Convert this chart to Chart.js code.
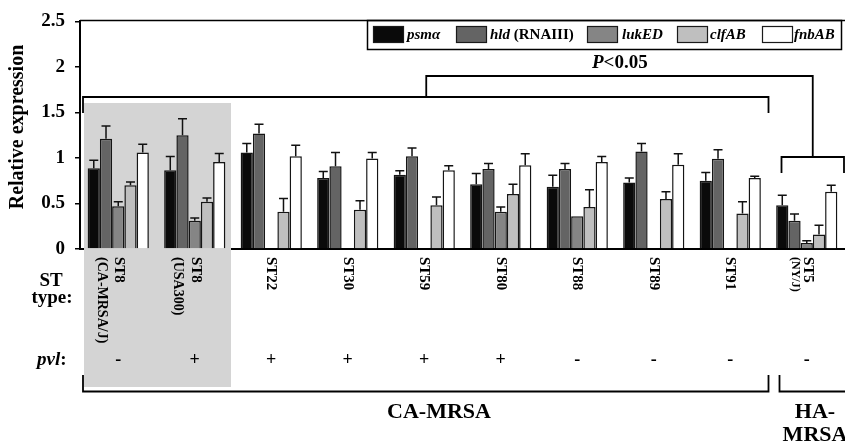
<!DOCTYPE html>
<html>
<head>
<meta charset="utf-8">
<script src="https://cdn.jsdelivr.net/npm/chart.js@4.4.0/dist/chart.umd.min.js"></script>
<style>
html,body{margin:0;padding:0;background:#fff;}
#wrap{width:845px;height:443px;}
</style>
</head>
<body>
<div id="wrap"><canvas id="c" width="845" height="443"></canvas></div>
<script>
// ---- data ----
const categories = ['ST8 (CA-MRSA/J)','ST8 (USA300)','ST22','ST30','ST59','ST80','ST88','ST89','ST91','ST5 (NY/J)'];
const stMain = ['ST8','ST8','ST22','ST30','ST59','ST80','ST88','ST89','ST91','ST5'];
const stSub = ['(CA-MRSA/J)','(USA300)','','','','','','','','(NY/J)'];
const pvlSigns = ['-','+','+','+','+','+','-','-','-','-'];
const yTicks = [0, 0.5, 1, 1.5, 2, 2.5];

const psma = [0.886, 0.865, 1.06, 0.78, 0.815, 0.71, 0.685, 0.73, 0.75, 0.48];
const psmaErr = [0.09, 0.15, 0.10, 0.07, 0.045, 0.12, 0.125, 0.05, 0.09, 0.11];
const hld = [1.21, 1.25, 1.27, 0.91, 1.02, 0.88, 0.88, 1.07, 0.99, 0.31];
const hldErr = [0.14, 0.18, 0.10, 0.15, 0.09, 0.06, 0.06, 0.09, 0.10, 0.075];
const lukED = [0.47, 0.31, null, null, null, 0.41, 0.36, null, null, 0.065];
const lukEDErr = [0.05, 0.03, null, null, null, 0.05, 0, null, null, 0.025];
const clfAB = [0.70, 0.52, 0.41, 0.43, 0.48, 0.605, 0.46, 0.55, 0.39, 0.16];
const clfABErr = [0.035, 0.04, 0.145, 0.10, 0.09, 0.105, 0.19, 0.08, 0.13, 0.10];
const fnbAB = [1.06, 0.955, 1.02, 0.995, 0.865, 0.92, 0.955, 0.925, 0.78, 0.63];
const fnbABErr = [0.09, 0.095, 0.12, 0.065, 0.05, 0.125, 0.06, 0.12, 0.02, 0.07];

const SERIF = '"Liberation Serif","Times New Roman",Times,serif';
const errs = [psmaErr, hldErr, lukEDErr, clfABErr, fnbABErr];

function mkDs(label, data, color){
  return {label, data, backgroundColor: color, borderColor: '#151515', borderWidth: 1.5,
          categoryPercentage: 0.8, barPercentage: 1.0};
}

const annot = {
  id: 'annot',
  beforeDatasetsDraw(chart){
    const ctx = chart.ctx, x = chart.scales.x, a = chart.chartArea;
    ctx.save();
    ctx.fillStyle = '#d4d4d4';
    const l = a.left + 4, r = x.getPixelForValue(1.5) - 2;
    ctx.fillRect(l, 103, r - l, 387 - 103);
    ctx.restore();
  },
  afterDatasetsDraw(chart){
    const ctx = chart.ctx, y = chart.scales.y;
    ctx.save();
    ctx.strokeStyle = '#111'; ctx.lineWidth = 1.5;
    chart.data.datasets.forEach((ds, di) => {
      const meta = chart.getDatasetMeta(di);
      meta.data.forEach((bar, i) => {
        const v = ds.data[i], e = errs[di][i];
        if (v == null || e == null || e <= 0) return;
        const yt = y.getPixelForValue(v + e);
        ctx.beginPath();
        ctx.moveTo(bar.x, bar.y); ctx.lineTo(bar.x, yt);
        ctx.moveTo(bar.x - 4.5, yt); ctx.lineTo(bar.x + 4.5, yt);
        ctx.stroke();
      });
    });
    ctx.restore();
  },
  afterDraw(chart){
    const ctx = chart.ctx, x = chart.scales.x, a = chart.chartArea;
    ctx.save();
    ctx.strokeStyle = '#000'; ctx.fillStyle = '#000';
    // top frame line
    ctx.lineWidth = 1.5;
    ctx.beginPath(); ctx.moveTo(a.left, a.top - 1); ctx.lineTo(a.right, a.top - 1); ctx.stroke();

    // y title
    ctx.save();
    ctx.translate(18, 127); ctx.rotate(-Math.PI/2);
    ctx.font = 'bold 20px ' + SERIF; ctx.textAlign = 'center'; ctx.textBaseline = 'middle';
    ctx.fillText('Relative expression', 0, 0);
    ctx.restore();

    // legend
    ctx.lineWidth = 1.5;
    ctx.strokeRect(367.5, 20.5, 474, 29);
    const sx = [373, 456, 587, 677, 762];
    const tx = [407, 490, 622, 710, 794];
    chart.data.datasets.forEach((ds, i) => {
      ctx.fillStyle = ds.backgroundColor;
      ctx.fillRect(sx[i], 26, 30, 16);
      ctx.lineWidth = 1.2; ctx.strokeStyle = '#1a1a1a';
      ctx.strokeRect(sx[i] + 0.5, 26.5, 30, 16);
    });
    ctx.fillStyle = '#000'; ctx.textBaseline = 'middle'; ctx.textAlign = 'left';
    const names = ['psmα','hld','lukED','clfAB','fnbAB'];
    names.forEach((n, i) => {
      ctx.font = 'italic bold 15px ' + SERIF;
      ctx.fillText(n, tx[i], 35);
      if (i === 1) {
        const w = ctx.measureText(n).width;
        ctx.font = 'bold 15px ' + SERIF;
        ctx.fillText(' (RNAIII)', tx[i] + w, 35);
      }
    });

    // brackets
    ctx.strokeStyle = '#000'; ctx.lineWidth = 1.8;
    const caL = a.left + 3, caR = x.getPixelForValue(8.5);
    ctx.beginPath();
    ctx.moveTo(caL, 113); ctx.lineTo(caL, 97); ctx.lineTo(caR, 97); ctx.lineTo(caR, 113);
    const mid = x.getPixelForValue(4) + 2, hx = x.getPixelForValue(9) + 6;
    ctx.moveTo(mid, 97); ctx.lineTo(mid, 76); ctx.lineTo(hx, 76); ctx.lineTo(hx, 157);
    const haL = x.getPixelForValue(8.5) + 13, haR = a.right - 1;
    ctx.moveTo(haL, 173); ctx.lineTo(haL, 157); ctx.lineTo(haR, 157); ctx.lineTo(haR, 173);
    ctx.stroke();

    // P<0.05
    ctx.textBaseline = 'middle'; ctx.textAlign = 'left';
    ctx.font = 'italic bold 19px ' + SERIF;
    const pw = ctx.measureText('P').width;
    ctx.fillText('P', 592, 63);
    ctx.font = 'bold 19px ' + SERIF;
    ctx.fillText('<0.05', 592 + pw, 63);

    // x labels (rotated clockwise)
    categories.forEach((c, i) => {
      const cx = x.getPixelForValue(i);
      const two = stSub[i] !== '';
      ctx.save();
      ctx.translate(two ? cx + 1 : cx, 257); ctx.rotate(Math.PI/2);
      ctx.font = 'bold 15px ' + SERIF; ctx.textAlign = 'left'; ctx.textBaseline = 'middle';
      ctx.fillText(stMain[i], 0, 0);
      ctx.restore();
      if (two) {
        const small = i === 9;
        ctx.save();
        ctx.translate(cx + (small ? -12 : -17), 257); ctx.rotate(Math.PI/2);
        ctx.font = 'bold ' + (small ? 12 : 14) + 'px ' + SERIF; ctx.textAlign = 'left'; ctx.textBaseline = 'middle';
        ctx.fillText(stSub[i], 0, 0);
        ctx.restore();
      }
      // pvl signs
      ctx.font = 'bold 18px ' + SERIF; ctx.textAlign = 'center'; ctx.textBaseline = 'middle';
      ctx.fillText(pvlSigns[i], cx, 360);
    });

    // ST type: / pvl:
    ctx.font = 'bold 19px ' + SERIF; ctx.textAlign = 'center'; ctx.textBaseline = 'middle';
    ctx.fillText('ST', 51, 281);
    ctx.fillText('type:', 52, 298);
    ctx.textAlign = 'left';
    ctx.font = 'italic bold 19px ' + SERIF;
    const vw = ctx.measureText('pvl').width;
    ctx.fillText('pvl', 37, 360);
    ctx.font = 'bold 19px ' + SERIF;
    ctx.fillText(':', 37 + vw, 360);

    // bottom brackets
    ctx.lineWidth = 1.8;
    ctx.beginPath();
    ctx.moveTo(caL, 375); ctx.lineTo(caL, 391.5); ctx.lineTo(caR, 391.5); ctx.lineTo(caR, 375);
    const hbL = x.getPixelForValue(8.5) + 11;
    ctx.moveTo(hbL, 375); ctx.lineTo(hbL, 391.5); ctx.lineTo(a.right, 391.5);
    ctx.stroke();
    ctx.font = 'bold 22px ' + SERIF; ctx.textAlign = 'center'; ctx.textBaseline = 'middle';
    ctx.fillText('CA-MRSA', 439, 412);
    ctx.fillText('HA-', 815, 412);
    ctx.fillText('MRSA', 815, 435);
    ctx.restore();
  }
};

new Chart(document.getElementById('c'), {
  type: 'bar',
  data: {
    labels: categories,
    datasets: [
      mkDs('psmα', psma, '#0a0a0a'),
      mkDs('hld (RNAIII)', hld, '#646464'),
      mkDs('lukED', lukED, '#858585'),
      mkDs('clfAB', clfAB, '#bfbfbf'),
      mkDs('fnbAB', fnbAB, '#ffffff')
    ]
  },
  options: {
    responsive: false,
    animation: false,
    layout: {padding: {top: 16, right: 0, left: 0, bottom: 0}},
    plugins: {legend: {display: false}, tooltip: {enabled: false}},
    scales: {
      x: {
        grid: {display: false},
        border: {display: true, color: '#000', width: 2},
        ticks: {display: false},
        afterFit(s){ s.height = 194; }
      },
      y: {
        min: 0, max: 2.5,
        afterBuildTicks(s){ s.ticks = yTicks.map(v => ({value: v})); },
        ticks: {
          color: '#000', padding: 10,
          font: {family: SERIF, size: 19, weight: 'bold'},
          callback: v => String(v)
        },
        grid: {display: true, drawOnChartArea: false, drawTicks: true, tickLength: 5, color: '#000', lineWidth: 1.5},
        border: {display: true, color: '#000', width: 2},
        afterFit(s){ s.width = 80; }
      }
    }
  },
  plugins: [annot]
});
</script>
</body>
</html>
